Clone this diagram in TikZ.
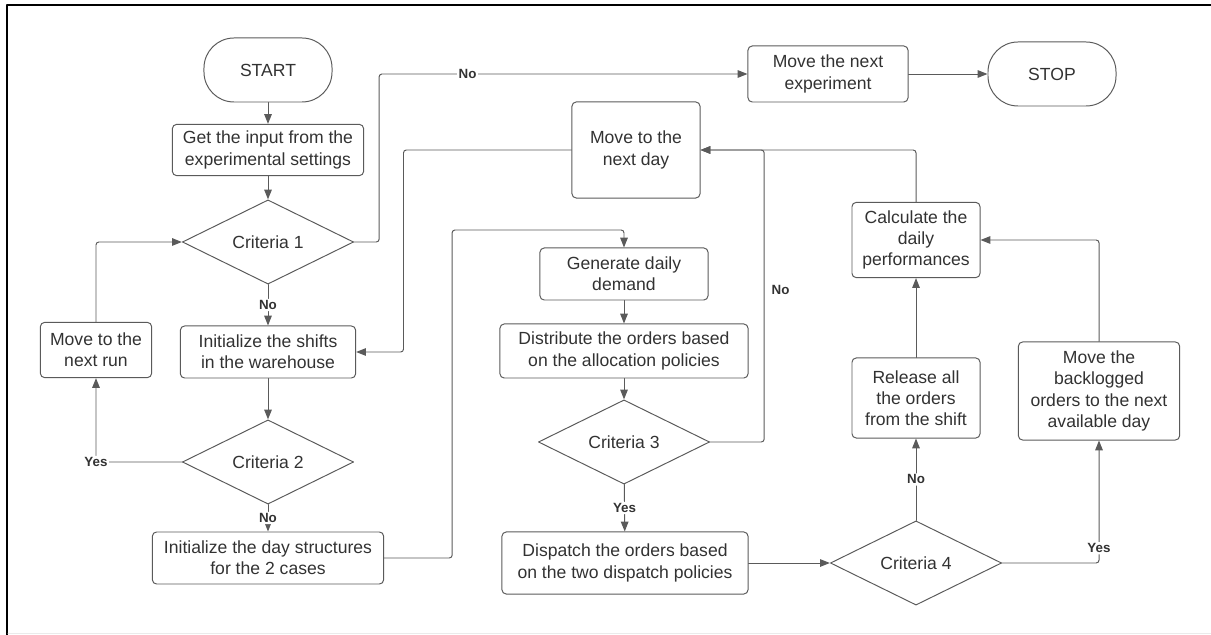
\documentclass[tikz,border=0pt]{standalone}
\usepackage{fontspec}
\setmainfont{Liberation Sans}
\usetikzlibrary{arrows.meta,shapes.geometric}
\definecolor{edgegray}{RGB}{90,90,90}
\definecolor{inkgray}{RGB}{50,50,50}
\begin{document}
\begin{tikzpicture}[x=0.025cm,y=-0.025cm,line cap=round,line join=round,>={Triangle[length=7pt,width=5.4pt]},
	font=\fontsize{12.5}{15}\selectfont,
	box/.style={draw=edgegray,line width=0.7pt,rounded corners=3pt,align=center,text=inkgray,inner sep=2pt},
	term/.style={box,rounded corners=0.75cm,minimum width=3.2cm,minimum height=1.6cm},
	cond/.style={draw=edgegray,line width=0.7pt,diamond,text=inkgray,inner sep=0pt,minimum width=4.28cm,minimum height=1.95cm},
	lab/.style={fill=white,inner sep=1pt,text=inkgray,font=\fontsize{9.5}{11}\selectfont\bfseries},
	flow/.style={->,draw=edgegray,line width=0.7pt,rounded corners=2pt}]
			\useasboundingbox (0,0) rectangle (1211,635);
			\draw[line width=1.5pt,line cap=butt] (7,635) -- (7,5) -- (1211,5);
			\draw[black!8] (8,633) -- (1211,633);
			\node[term] (start) at (268,70) {START};
			\node[box,minimum width=4.78cm,minimum height=1.28cm] (input) at (268,150) {Get the input from the\\experimental settings};
			\node[cond] (crit1) at (268,242) {Criteria 1};
			\node[box,minimum width=4.38cm,minimum height=1.3cm] (shifts) at (268,352) {Initialize the shifts\\in the warehouse};
			\node[cond] (crit2) at (268,462) {Criteria 2};
			\node[box,minimum width=5.78cm,minimum height=1.3cm] (daystr) at (268,558) {Initialize the day structures\\for the 2 cases};
			\node[box,minimum width=2.78cm,minimum height=1.38cm] (nextrun) at (96,350) {Move to the\\next run};
			\node[box,minimum width=4cm,minimum height=1.4cm] (nextexp) at (828,74) {Move the next\\experiment};
			\node[term] (stop) at (1052,74) {STOP};
			\node[box,minimum width=3.2cm,minimum height=2.4cm] (nextday) at (636,150) {Move to the\\next day};
			\node[box,minimum width=4.2cm,minimum height=1.3cm] (demand) at (624,274) {Generate daily\\demand};
			\node[box,minimum width=6.2cm,minimum height=1.35cm] (distr) at (624,351) {Distribute the orders based\\on the allocation policies};
			\node[cond] (crit3) at (624,442) {Criteria 3};
			\node[box,minimum width=6.15cm,minimum height=1.55cm] (dispatch) at (625,563) {Dispatch the orders based\\on the two dispatch policies};
			\node[cond] (crit4) at (916,563) {Criteria 4};
			\node[box,minimum width=3.2cm,minimum height=2cm] (release) at (916,398) {Release all\\the orders\\from the shift};
			\node[box,minimum width=3.2cm,minimum height=1.88cm] (calc) at (916,240) {Calculate the\\daily\\performances};
			\node[box,minimum width=4.03cm,minimum height=2.45cm] (backlog) at (1099,391) {Move the\\backlogged\\orders to the next\\available day};
			\draw[flow] (start) -- (input);
			\draw[flow] (input) -- (crit1);
			\draw[flow] (crit1) -- node[lab]{No} (shifts);
			\draw[flow] (shifts) -- (crit2);
			\draw[flow] (crit2) -- node[lab]{No} (daystr);
			\draw[flow] (crit2.west) -| node[lab,pos=0.5]{Yes} (nextrun.south);
			\draw[flow] (nextrun.north) |- (crit1.west);
			\draw[flow] (crit1.east) -- ++(25,0) |- node[lab,pos=0.62]{No} (nextexp.west);
			\draw[flow] (nextexp) -- (stop);
			\draw[flow] (nextday.west) -- ++(-168,0) |- (shifts.east);
			\draw[flow] (daystr.east) -- ++(68,0) -- ++(0,-328) -| (demand.north);
			\draw[flow] (demand) -- (distr);
			\draw[flow] (distr) -- (crit3);
			\draw[flow] (crit3.east) -- ++(54,0) |- node[lab,pos=0.26,anchor=west,xshift=4pt,fill=none]{No} (nextday.east);
			\draw[flow] (crit3) -- node[lab]{Yes} (dispatch);
			\draw[flow] (dispatch) -- (crit4);
			\draw[flow] (crit4) -- node[lab]{No} (release);
			\draw[flow] (release) -- (calc);
			\draw[flow] (crit4.east) -| node[lab,pos=0.56]{Yes} (backlog.south);
			\draw[flow] (backlog.north) |- (calc.east);
			\draw[flow] (calc.north) |- (nextday.east);
		\end{tikzpicture}
\end{document}
